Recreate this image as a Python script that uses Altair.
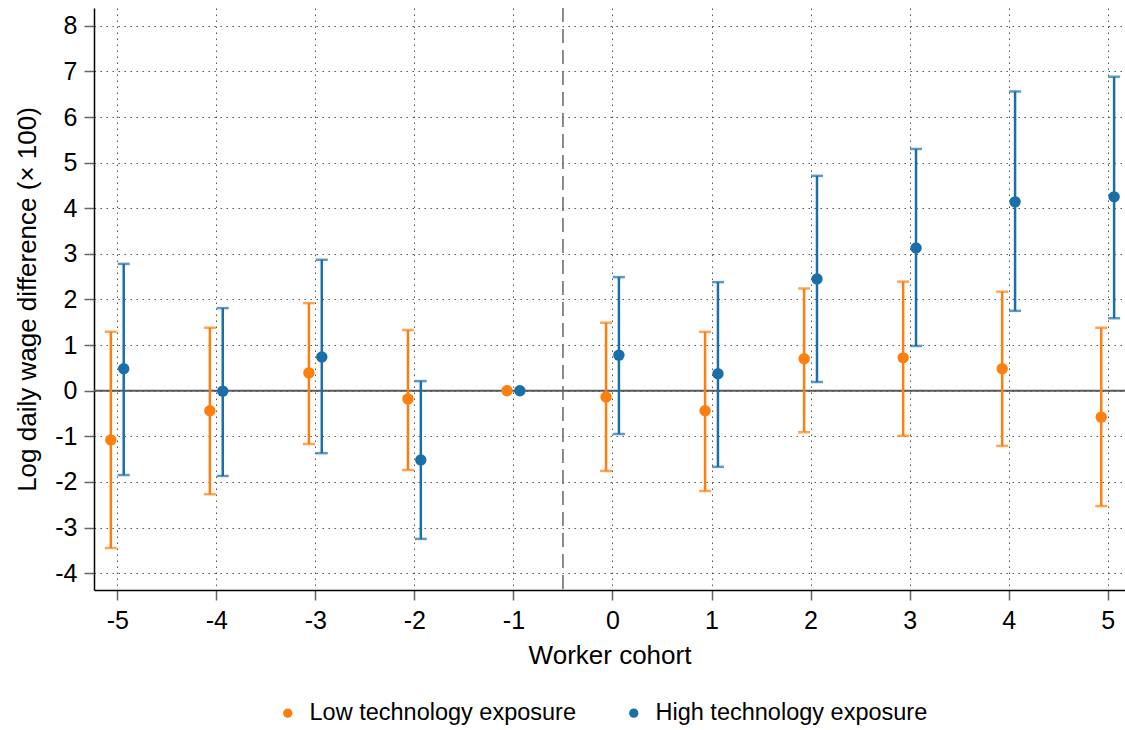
import altair as alt
import pandas as pd

cohorts = [-5, -4, -3, -2, -1, 0, 1, 2, 3, 4, 5]

low_est = [-1.08, -0.44, 0.39, -0.18, 0.0, -0.14, -0.44, 0.70, 0.72, 0.48, -0.58]
low_lo = [-3.45, -2.27, -1.17, -1.74, None, -1.76, -2.20, -0.91, -0.99, -1.21, -2.53]
low_hi = [1.29, 1.38, 1.92, 1.33, None, 1.49, 1.29, 2.24, 2.39, 2.17, 1.38]

high_est = [0.48, -0.01, 0.74, -1.52, 0.0, 0.78, 0.37, 2.45, 3.13, 4.14, 4.25]
high_lo = [-1.85, -1.87, -1.37, -3.25, None, -0.95, -1.67, 0.19, 0.98, 1.75, 1.59]
high_hi = [2.78, 1.81, 2.87, 0.21, None, 2.49, 2.38, 4.71, 5.30, 6.56, 6.88]

groups = ["Low technology exposure", "High technology exposure"]
colors = ["#fd7f0e", "#1a6fa9"]
offsets = [-0.065, 0.065]

rows = []
for g, off, est, lo, hi in zip(groups, offsets, [low_est, high_est], [low_lo, high_lo], [low_hi, high_hi]):
    for c, e, l, h in zip(cohorts, est, lo, hi):
        rows.append({"cohort": c, "group": g, "xpos": c + off, "est": e, "lo": l, "hi": h})
df = pd.DataFrame(rows)
ci = df.dropna(subset=["lo", "hi"])

FONT = "Liberation Sans"
xscale = alt.Scale(domain=[-5.235, 5.175], nice=False, zero=False)
yscale = alt.Scale(domain=[-4.37, 8.39], nice=False, zero=False)
color = alt.Color(
    "group:N",
    scale=alt.Scale(domain=groups, range=colors),
    legend=alt.Legend(
        title=None,
        orient="none",
        legendX=182,
        legendY=693,
        direction="horizontal",
        symbolType="circle",
        symbolSize=85,
        symbolStrokeWidth=0,
        symbolOpacity=1,
        labelFontSize=23.5,
        labelFont=FONT,
        labelColor="#000",
        labelLimit=600,
        labelOffset=10,
        columnPadding=45,
        padding=0,
    ),
)

common_axis = dict(
    titleFontSize=26,
    titleFont=FONT,
    titleFontWeight="normal",
    titleColor="#000",
    titleBaseline="alphabetic",
    labelFontSize=25,
    labelFont=FONT,
    labelColor="#000",
    labelExpr="'' + datum.value",
    tickSize=10,
    tickColor="#666",
    tickWidth=1.5,
    domainColor="#000",
    domainWidth=1.5,
    grid=True,
    gridDash=[1.5, 4.5],
    gridColor="#555",
    gridWidth=1,
)

xaxis = alt.Axis(values=cohorts, title="Worker cohort", titleY=73, labelPadding=8, **common_axis)
yaxis = alt.Axis(
    values=list(range(-4, 9)),
    title="Log daily wage difference (× 100)",
    titleX=-59,
    labelPadding=7,
    **common_axis,
)

base_pts = alt.Chart(df).mark_circle(size=130, opacity=1).encode(
    x=alt.X("xpos:Q", scale=xscale, axis=xaxis),
    y=alt.Y("est:Q", scale=yscale, axis=yaxis),
    color=color,
)

zero_df = pd.DataFrame({"y": [0]})
zero = alt.Chart(zero_df).mark_rule(color="#5a5a5a", strokeWidth=2).encode(y=alt.Y("y:Q", scale=yscale))
vline_df = pd.DataFrame({"x": [-0.5]})
vline = alt.Chart(vline_df).mark_rule(color="#666", strokeWidth=1.5, strokeDash=[14, 7]).encode(
    x=alt.X("x:Q", scale=xscale)
)

bars = alt.Chart(ci).mark_rule(strokeWidth=2.5).encode(
    x=alt.X("xpos:Q", scale=xscale),
    y=alt.Y("lo:Q", scale=yscale),
    y2="hi:Q",
    color=color,
)
cap_lo = alt.Chart(ci).mark_tick(orient="horizontal", size=12, thickness=2.5).encode(
    x=alt.X("xpos:Q", scale=xscale),
    y=alt.Y("lo:Q", scale=yscale),
    color=color,
)
cap_hi = alt.Chart(ci).mark_tick(orient="horizontal", size=12, thickness=2.5).encode(
    x=alt.X("xpos:Q", scale=xscale),
    y=alt.Y("hi:Q", scale=yscale),
    color=color,
)

chart = (
    alt.layer(zero, vline, bars, cap_lo, cap_hi, base_pts)
    .properties(
        width=1031,
        height=582,
        autosize=alt.AutoSizeParams(type="none"),
        padding={"left": 94, "top": 8, "right": 0, "bottom": 140},
        background="white",
    )
    .configure_view(stroke=None)
)

chart.save("out.html", embed_options={"renderer": "svg", "actions": False})
